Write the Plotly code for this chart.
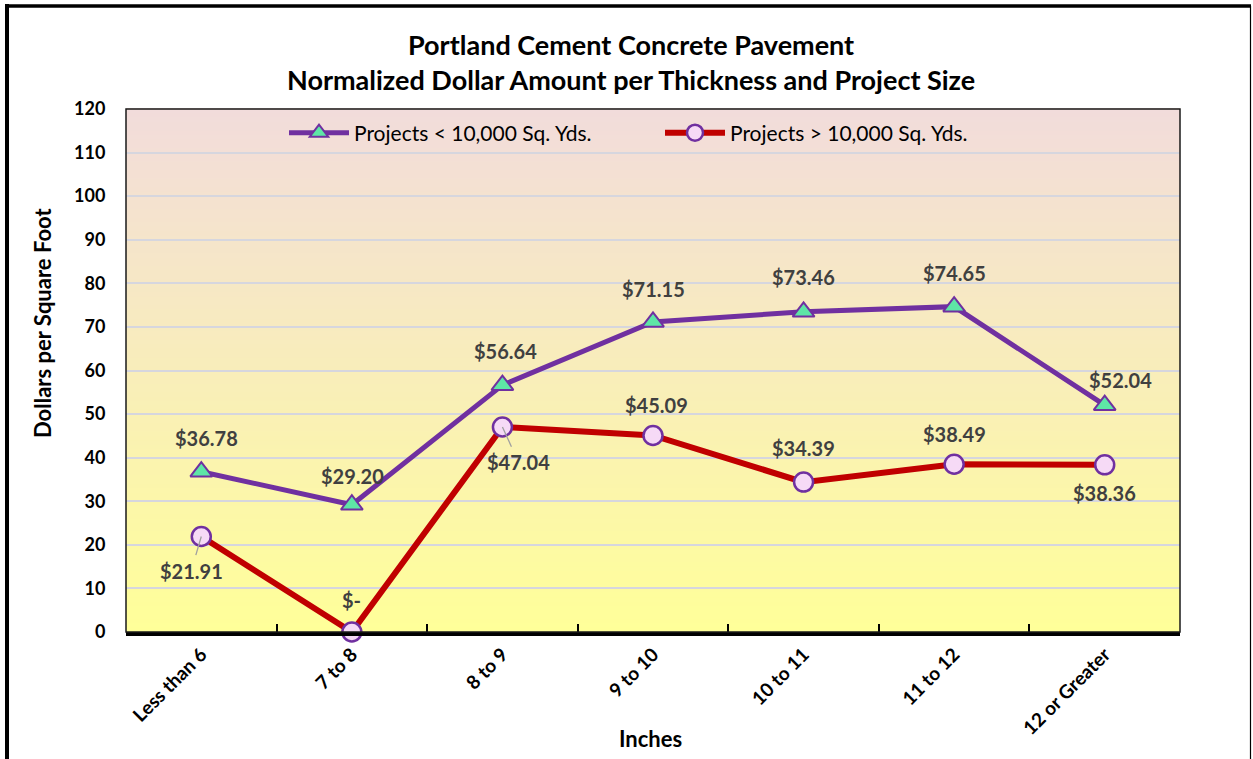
import plotly.graph_objects as go

# ---- data -------------------------------------------------------------
categories = ["Less than 6", "7 to 8", "8 to 9", "9 to 10", "10 to 11", "11 to 12", "12 or Greater"]
small_projects = [36.78, 29.20, 56.64, 71.15, 73.46, 74.65, 52.04]   # < 10,000 sq. yds.
large_projects = [21.91, 0.00, 47.04, 45.09, 34.39, 38.49, 38.36]    # > 10,000 sq. yds.
y_ticks = [0, 10, 20, 30, 40, 50, 60, 70, 80, 90, 100, 110, 120]

# ---- styling ----------------------------------------------------------
W, H = 1253, 759
ML, MR, MT, MB = 126, 73, 109, 127
FONT = "Lato"
PURPLE = "#7030A0"
RED = "#C00000"
LABEL_COLOR = "#404040"
LABEL_SIZE = 20

# label offsets (pixels, x right / y down) relative to each point
small_off = [(5, -34), (1, -29), (3, -34), (0, -33), (0, -35), (0, -34), (16, -25)]
large_off = [(-10, 34), (0, -32), (16, 35), (3, -30), (0, -34), (0, -30), (0, 28)]
large_leader = [True, False, True, False, False, False, False]


def money(v):
    return "$-" if v == 0 else f"${v:,.2f}"


def px_x(p):
    return (p - ML) / (W - ML - MR)


def px_y(p):
    return (H - MB - p) / (H - MT - MB)


label_font = dict(family=FONT, size=LABEL_SIZE, color=LABEL_COLOR, weight="bold")

fig = go.Figure()

fig.add_trace(go.Scatter(
    x=categories, y=small_projects, name="Projects < 10,000 Sq. Yds.",
    mode="lines+markers",
    line=dict(color=PURPLE, width=5),
    marker=dict(symbol="triangle-up", size=19, color="#5EE6A6",
                line=dict(color=PURPLE, width=2)),
    cliponaxis=False,
))
fig.add_trace(go.Scatter(
    x=categories, y=large_projects, name="Projects > 10,000 Sq. Yds.",
    mode="lines+markers",
    line=dict(color=RED, width=6),
    marker=dict(symbol="circle", size=19, color="#F6DAF6",
                line=dict(color=PURPLE, width=2.5)),
    cliponaxis=False,
))

annotations = []
for c, v, (dx, dy) in zip(categories, small_projects, small_off):
    annotations.append(dict(x=c, y=v, text=money(v), showarrow=False,
                            xshift=dx, yshift=-dy, font=label_font))
for c, v, (dx, dy), lead in zip(categories, large_projects, large_off, large_leader):
    if lead:
        annotations.append(dict(x=c, y=v, text=money(v), showarrow=True,
                                ax=dx, ay=dy, arrowhead=0, arrowwidth=1.3,
                                arrowcolor="#A0A0A0", standoff=0, startstandoff=2,
                                font=label_font))
    else:
        annotations.append(dict(x=c, y=v, text=money(v), showarrow=False,
                                xshift=dx, yshift=-dy, font=label_font))

# chart title and axis titles placed as free text
annotations.append(dict(
    xref="paper", yref="paper", x=px_x(631), y=px_y(62), xanchor="center", yanchor="middle",
    text="Portland Cement Concrete Pavement<br>Normalized Dollar Amount per Thickness and Project Size",
    showarrow=False, font=dict(family=FONT, size=27, color="black", weight="bold"),
))
annotations.append(dict(
    xref="paper", yref="paper", x=px_x(42), y=px_y(323), xanchor="center", yanchor="middle",
    text="Dollars per Square Foot", textangle=-90, showarrow=False,
    font=dict(family=FONT, size=22, color="black", weight="bold"),
))
annotations.append(dict(
    xref="paper", yref="paper", x=px_x(650), y=px_y(738), xanchor="center", yanchor="middle",
    text="Inches", showarrow=False,
    font=dict(family=FONT, size=22, color="black", weight="bold"),
))

# plot-area gradient: pink at the top fading to pale yellow at the bottom
shapes = []
top_rgb = (242, 220, 219)
bot_rgb = (255, 255, 153)
n_bands = 120
for i in range(n_bands):
    t = i / (n_bands - 1)
    r, g, b = (round(bot_rgb[k] + (top_rgb[k] - bot_rgb[k]) * t) for k in range(3))
    shapes.append(dict(type="rect", xref="x domain", yref="y domain",
                       x0=0, x1=1, y0=i / n_bands, y1=(i + 1) / n_bands + 0.002,
                       fillcolor=f"rgb({r},{g},{b})", line=dict(width=0), layer="below"))

# plot-area frame
shapes.append(dict(type="rect", xref="x domain", yref="y domain", x0=0, x1=1, y0=0, y1=1,
                   line=dict(color="#1A1A1A", width=1.5), layer="above"))
# outer chart frame
shapes.append(dict(type="line", xref="paper", yref="paper",
                   x0=px_x(7), x1=px_x(7), y0=px_y(4), y1=px_y(770),
                   line=dict(color="black", width=4)))
shapes.append(dict(type="line", xref="paper", yref="paper",
                   x0=px_x(5), x1=px_x(1251), y0=px_y(6), y1=px_y(6),
                   line=dict(color="black", width=3.5)))
shapes.append(dict(type="line", xref="paper", yref="paper",
                   x0=px_x(1250.5), x1=px_x(1250.5), y0=px_y(6), y1=px_y(770),
                   line=dict(color="black", width=1.2)))

fig.update_layout(
    width=W, height=H,
    margin=dict(l=ML, r=MR, t=MT, b=MB, autoexpand=False),
    paper_bgcolor="white",
    plot_bgcolor="rgba(0,0,0,0)",
    font=dict(family=FONT, color="black"),
    legend=dict(
        orientation="h", x=px_x(660), xanchor="center", y=px_y(133), yanchor="middle",
        bgcolor="rgba(0,0,0,0)", font=dict(family=FONT, size=21, color="black"),
        itemwidth=60, entrywidth=301, traceorder="normal",
    ),
    xaxis=dict(
        type="category", range=[-0.5, len(categories) - 0.5], automargin=False,
        showgrid=False, showline=True, linecolor="black", linewidth=4,
        ticks="inside", tickson="boundaries", ticklen=8, tickcolor="black", tickwidth=1.5,
        tickangle=-45,
        tickfont=dict(family=FONT, size=19, color="black", weight="bold"),
    ),
    yaxis=dict(
        range=[0, 120], tickvals=y_ticks, automargin=False,
        showgrid=True, gridcolor="#D6D6DE", gridwidth=1.5,
        zeroline=False, showline=False,
        ticks="outside", ticklen=16, tickcolor="rgba(0,0,0,0)",
        tickfont=dict(family=FONT, size=18, color="black", weight="bold"),
    ),
    shapes=shapes,
    annotations=annotations,
)

fig.write_html("out.html")
